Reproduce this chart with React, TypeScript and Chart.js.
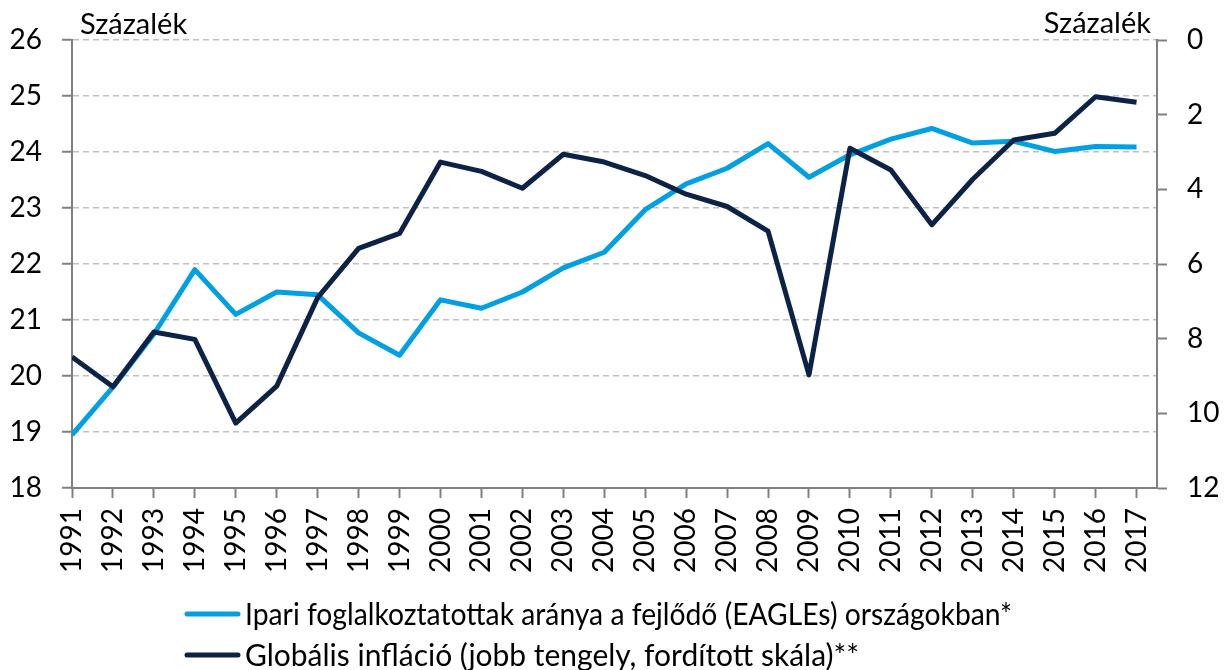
import React, { useEffect, useRef } from "react";
import { Chart, registerables } from "chart.js";

Chart.register(...registerables);

const years: number[] = [
  1991, 1992, 1993, 1994, 1995, 1996, 1997, 1998, 1999, 2000, 2001, 2002, 2003, 2004,
  2005, 2006, 2007, 2008, 2009, 2010, 2011, 2012, 2013, 2014, 2015, 2016, 2017,
];

// Ipari foglalkoztatottak aránya a fejlődő (EAGLEs) országokban (bal tengely, %)
const eaglesShare: number[] = [
  18.95, 19.8, 20.75, 21.9, 21.1, 21.5, 21.45, 20.77, 20.37, 21.36, 21.21, 21.5, 21.93,
  22.21, 22.97, 23.43, 23.71, 24.15, 23.55, 23.95, 24.23, 24.42, 24.16, 24.19, 24.01,
  24.1, 24.09,
];

// Globális infláció (jobb tengely, fordított skála, %)
const globalInflation: number[] = [
  8.49, 9.29, 7.82, 8.02, 10.26, 9.27, 6.9, 5.58, 5.18, 3.27, 3.52, 3.97, 3.06, 3.27,
  3.63, 4.13, 4.46, 5.12, 8.97, 2.9, 3.48, 4.95, 3.73, 2.68, 2.5, 1.52, 1.67,
];

const leftTicks = { min: 18, max: 26, step: 1 };
const rightTicks = { min: 0, max: 12, step: 2 };

const legendLabels: string[] = [
  "Ipari foglalkoztatottak aránya a fejlődő (EAGLEs) országokban*",
  "Globális infláció (jobb tengely, fordított skála)**",
];
const axisTitle = "Százalék";

const BLUE = "#00A0E3";
const NAVY = "#0C2247";
const AXIS = "#808080";
const GRID = "#BFBFBF";
const FONT = "Lato";

const W = 1225;
const H = 670;

export default function App() {
  const ref = useRef<HTMLCanvasElement | null>(null);

  useEffect(() => {
    if (!ref.current) return;

    const overlay = {
      id: "overlay",
      afterDraw(chart: any) {
        const ctx = chart.ctx;
        const area = chart.chartArea;
        ctx.save();
        ctx.fillStyle = "#000";
        ctx.font = `29px ${FONT}`;
        ctx.textBaseline = "alphabetic";
        ctx.textAlign = "left";
        ctx.fillText(axisTitle, area.left + 8, 34);
        ctx.textAlign = "right";
        ctx.fillText(axisTitle, area.right - 6, 33);

        const colors = [BLUE, NAVY];
        const ys = [614, 655];
        const maxW = [767, 614];
        ctx.font = `30px ${FONT}`;
        legendLabels.forEach((label, i) => {
          ctx.strokeStyle = colors[i];
          ctx.lineWidth = 5;
          ctx.lineCap = "round";
          ctx.beginPath();
          ctx.moveTo(187, ys[i]);
          ctx.lineTo(238, ys[i]);
          ctx.stroke();
          ctx.fillStyle = "#000";
          ctx.textAlign = "left";
          ctx.textBaseline = "middle";
          ctx.fillText(label, 245, ys[i] + 1, maxW[i]);
        });
        ctx.restore();
      },
    };

    const chart = new Chart(ref.current, {
      type: "line",
      data: {
        datasets: [
          {
            label: legendLabels[1],
            data: years.map((y, i) => ({ x: y, y: globalInflation[i] })),
            yAxisID: "y1",
            borderColor: NAVY,
            backgroundColor: NAVY,
            borderWidth: 5,
            pointRadius: 0,
            borderJoinStyle: "round",
            tension: 0,
            order: 0,
          },
          {
            label: legendLabels[0],
            data: years.map((y, i) => ({ x: y, y: eaglesShare[i] })),
            yAxisID: "y",
            borderColor: BLUE,
            backgroundColor: BLUE,
            borderWidth: 5,
            pointRadius: 0,
            borderJoinStyle: "round",
            tension: 0,
            order: 1,
          },
        ],
      },
      options: {
        responsive: false,
        animation: false,
        events: [],
        layout: { padding: { top: 40, bottom: 95, left: 0, right: 0 } },
        plugins: {
          legend: { display: false },
          tooltip: { enabled: false },
        },
        scales: {
          x: {
            type: "linear",
            position: "bottom",
            min: years[0],
            max: years[years.length - 1] + 0.5,
            afterBuildTicks: (scale: any) => {
              scale.ticks = years.map((v) => ({ value: v }));
            },
            afterFit: (scale: any) => {
              scale.height = H - 488 - 95;
            },
            ticks: {
              stepSize: 1,
              autoSkip: false,
              minRotation: 90,
              maxRotation: 90,
              padding: 10,
              color: "#000",
              font: { family: FONT, size: 28 },
              callback: (v: any) => String(v),
            },
            grid: {
              drawOnChartArea: false,
              drawTicks: true,
              tickLength: 10,
              tickColor: AXIS,
              tickWidth: 2,
            },
            border: { color: AXIS, width: 2 },
          },
          y: {
            type: "linear",
            position: "left",
            min: leftTicks.min,
            max: leftTicks.max,
            afterFit: (scale: any) => {
              scale.width = 72;
            },
            ticks: {
              stepSize: leftTicks.step,
              padding: 20,
              color: "#000",
              font: { family: FONT, size: 28 },
            },
            grid: {
              color: (c: any) => (c.tick && c.tick.value === leftTicks.min ? "rgba(0,0,0,0)" : GRID),
              lineWidth: 1.5,
              tickLength: 10,
              tickColor: AXIS,
              tickWidth: 2,
            },
            border: { color: AXIS, width: 2, dash: [6, 4] },
          },
          y1: {
            type: "linear",
            position: "right",
            reverse: true,
            min: rightTicks.min,
            max: rightTicks.max,
            afterFit: (scale: any) => {
              scale.width = W - 1157;
            },
            ticks: {
              stepSize: rightTicks.step,
              padding: 20,
              color: "#000",
              font: { family: FONT, size: 28 },
            },
            grid: {
              drawOnChartArea: false,
              tickLength: 10,
              tickColor: AXIS,
              tickWidth: 2,
            },
            border: { color: AXIS, width: 2 },
          },
        },
      },
      plugins: [overlay],
    } as any);

    return () => chart.destroy();
  }, []);

  return (
    <div style={{ position: "fixed", left: 0, top: 0, width: W, height: H, background: "#fff" }}>
      <canvas ref={ref} width={W} height={H} style={{ width: W, height: H, display: "block" }} />
    </div>
  );
}
